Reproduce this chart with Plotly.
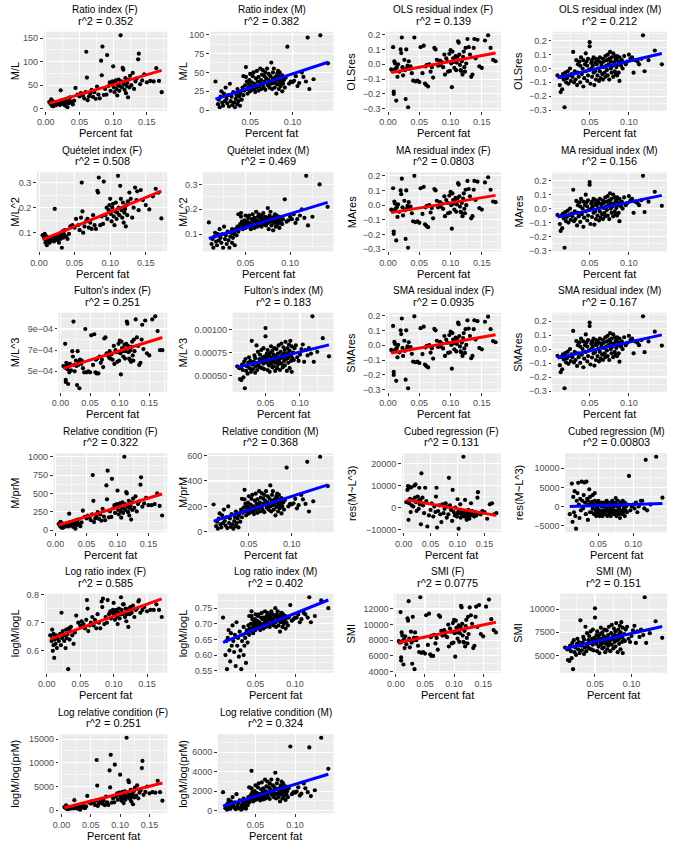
import numpy as np
import plotly.graph_objects as go

W, H = 673, 845
FONT = "Liberation Sans, Arial, sans-serif"

# ---------------- data: females ----------------
x_F = [0.005, 0.007, 0.008, 0.009, 0.009, 0.010, 0.010, 0.011, 0.012, 0.013, 0.014, 0.015, 0.016, 0.018,
       0.020, 0.021, 0.022, 0.023, 0.024, 0.026, 0.027, 0.028, 0.029, 0.030,
       0.031, 0.032, 0.033, 0.034, 0.035, 0.036, 0.038, 0.040, 0.042, 0.044,
       0.047, 0.050, 0.052, 0.055, 0.057, 0.059,
       0.060, 0.061, 0.062, 0.064, 0.066, 0.068, 0.070, 0.072, 0.074,
       0.076, 0.078, 0.080, 0.082, 0.083, 0.084, 0.086, 0.088, 0.090,
       0.091, 0.093, 0.095, 0.096, 0.098, 0.099, 0.100, 0.101, 0.102, 0.103, 0.104, 0.105,
       0.106, 0.107, 0.108, 0.109, 0.110, 0.111, 0.112, 0.113, 0.114, 0.115, 0.116, 0.117, 0.118, 0.119,
       0.120, 0.121, 0.122, 0.123, 0.124, 0.125, 0.127, 0.129, 0.131, 0.133,
       0.135, 0.137, 0.138, 0.140, 0.143,
       0.146, 0.150, 0.155, 0.160, 0.164, 0.168, 0.172]

ratio_F = [14, 10, 20, 6, 12, 8, 16, 5, 11, 9, 14, 7, 12, 10,
           15, 8, 39, 12, 18, 10, 14, 7, 20, 12,
           16, 3, 22, 11, 18, 24, 14, 9, 17, 44,
           30, 26, 33, 28, 22, 35,
           121, 66, 18, 26, 32, 40, 25, 35, 21,
           47, 30, 22, 102, 71, 132, 29, 42, 30,
           114, 48, 56, 38, 52, 58, 90, 45, 35, 55, 60, 42,
           28, 50, 62, 38, 48, 156, 58, 45, 87, 83, 52, 40, 65, 33,
           48, 55, 24, 62, 45, 70, 50, 76, 42, 58,
           64, 105, 117, 52, 60,
           73, 56, 59, 58, 86, 59, 35]

quet_F = [0.09, 0.08, 0.095, 0.06, 0.075, 0.07, 0.085, 0.05, 0.07, 0.065, 0.08, 0.06, 0.075, 0.07,
          0.085, 0.065, 0.195, 0.075, 0.09, 0.07, 0.08, 0.06, 0.095, 0.075,
          0.09, 0.04, 0.105, 0.08, 0.095, 0.11, 0.085, 0.075, 0.095, 0.125,
          0.13, 0.12, 0.155, 0.13, 0.11, 0.16,
          0.30, 0.185, 0.10, 0.125, 0.145, 0.155, 0.12, 0.14, 0.115,
          0.17, 0.13, 0.115, 0.267, 0.26, 0.32, 0.13, 0.165, 0.135,
          0.304, 0.17, 0.2, 0.155, 0.19, 0.21, 0.235, 0.175, 0.145, 0.2, 0.215, 0.165,
          0.13, 0.185, 0.22, 0.155, 0.18, 0.327, 0.2, 0.17, 0.287, 0.235, 0.19, 0.16, 0.22, 0.14,
          0.18, 0.195, 0.125, 0.21, 0.17, 0.225, 0.26, 0.235, 0.16, 0.2,
          0.28, 0.23, 0.265, 0.19, 0.27,
          0.23, 0.21, 0.193, 0.245, 0.275, 0.26, 0.157]

fulton_F = [5.5e-4, 5.4e-4, 7.6e-4, 4.2e-4, 4.0e-4, 5.8e-4, 5.3e-4, 5.6e-4, 5.2e-4, 3.8e-4, 5.5e-4, 4.9e-4, 5.7e-4, 5.1e-4,
            6.9e-4, 6.4e-4, 9.7e-4, 5.6e-4, 5.0e-4, 6.0e-4, 5.5e-4, 3.7e-4, 6.9e-4, 5.6e-4,
            5.9e-4, 3.4e-4, 6.1e-4, 5.8e-4, 5.7e-4, 6.0e-4, 5.3e-4, 4.9e-4, 9.0e-4, 4.9e-4,
            5.0e-4, 4.9e-4, 8.4e-4, 5.6e-4, 8.5e-4, 4.9e-4,
            6.1e-4, 4.8e-4, 6.2e-4, 4.8e-4, 6.4e-4, 5.8e-4, 6.1e-4, 5.4e-4, 8.1e-4,
            8.2e-4, 6.7e-4, 6.5e-4, 6.3e-4, 6.9e-4, 6.2e-4, 6.6e-4, 6.1e-4, 7.4e-4,
            5.7e-4, 7.0e-4, 6.8e-4, 5.9e-4, 7.6e-4, 6.0e-4, 7.9e-4, 6.7e-4, 4.7e-4, 7.8e-4, 7.2e-4, 6.9e-4,
            6.4e-4, 7.1e-4, 7.5e-4, 6.2e-4, 6.9e-4, 7.6e-4, 9.7e-4, 9.5e-4, 7.4e-4, 6.8e-4, 6.2e-4, 6.1e-4, 7.0e-4, 5.9e-4,
            7.3e-4, 7.8e-4, 6.5e-4, 6.0e-4, 8.0e-4, 6.9e-4, 9.9e-4, 8.2e-4, 7.4e-4, 5.6e-4,
            5.8e-4, 8.0e-4, 9.4e-4, 7.1e-4, 9.8e-4,
            6.7e-4, 6.5e-4, 9.9e-4, 10.2e-4, 8.8e-4, 7.0e-4, 7.0e-4]

ols_F = [-0.035, -0.045, 0.115, -0.185, -0.20, 0.02, -0.04, 0.005, -0.03, -0.245, -0.02, -0.085, 0.0, -0.05,
         0.10, 0.075, 0.18, -0.02, -0.075, 0.03, -0.04, -0.235, 0.10, -0.03,
         -0.01, -0.29, 0.02, -0.025, -0.03, -0.015, -0.06, -0.11, 0.18, -0.115,
         -0.11, -0.12, 0.115, -0.06, 0.125, -0.13,
         -0.015, -0.14, -0.005, -0.15, 0.0, -0.05, -0.02, -0.09, 0.11,
         0.10, 0.03, -0.01, 0.0, 0.025, -0.005, 0.015, -0.02, 0.065,
         -0.07, 0.04, 0.02, -0.05, 0.07, -0.045, 0.095, 0.005, -0.155, 0.085, 0.04, 0.015,
         -0.025, 0.03, 0.055, -0.04, 0.01, 0.05, 0.155, 0.145, 0.065, -0.005, -0.04, -0.045, 0.02, -0.07,
         0.05, 0.085, -0.02, -0.05, 0.11, 0.005, 0.17, 0.115, 0.065, -0.085,
         -0.07, 0.11, 0.17, 0.04, 0.165,
         -0.015, -0.025, 0.16, 0.195, 0.11, 0.03, 0.02]

ma_F = [-0.03, -0.04, 0.115, -0.18, -0.195, 0.025, -0.035, 0.01, -0.025, -0.24, -0.015, -0.08, 0.005, -0.045,
        0.10, 0.075, 0.18, -0.015, -0.07, 0.03, -0.035, -0.23, 0.10, -0.025,
        -0.005, -0.29, 0.02, -0.02, -0.025, -0.01, -0.055, -0.11, 0.2, -0.115,
        -0.11, -0.12, 0.115, -0.06, 0.125, -0.13,
        -0.015, -0.14, -0.005, -0.15, 0.0, -0.05, -0.02, -0.09, 0.11,
        0.10, 0.03, -0.015, -0.005, 0.02, -0.01, 0.01, -0.025, 0.06,
        -0.075, 0.035, 0.015, -0.055, 0.065, -0.05, 0.09, 0.0, -0.16, 0.08, 0.035, 0.01,
        -0.03, 0.025, 0.05, -0.045, 0.005, 0.045, 0.15, 0.14, 0.06, -0.01, -0.045, -0.05, 0.015, -0.075,
        0.045, 0.08, -0.025, -0.055, 0.105, 0.0, 0.165, 0.11, 0.06, -0.09,
        -0.075, 0.105, 0.165, 0.035, 0.16,
        -0.02, -0.03, 0.155, 0.19, 0.105, 0.025, 0.02]

sma_F = [-0.032, -0.042, 0.13, -0.18, -0.2, 0.022, -0.038, 0.008, -0.028, -0.24, -0.018, -0.082, 0.002, -0.048,
         0.10, 0.075, 0.18, -0.018, -0.072, 0.03, -0.038, -0.232, 0.10, -0.028,
         -0.008, -0.29, 0.02, -0.022, -0.028, -0.012, -0.058, -0.11, 0.195, -0.115,
         -0.11, -0.12, 0.115, -0.06, 0.125, -0.13,
         -0.015, -0.14, -0.005, -0.15, 0.0, -0.05, -0.02, -0.09, 0.11,
         0.10, 0.03, -0.012, -0.002, 0.022, -0.008, 0.012, -0.022, 0.062,
         -0.072, 0.038, 0.018, -0.052, 0.068, -0.048, 0.092, 0.002, -0.158, 0.082, 0.038, 0.012,
         -0.028, 0.028, 0.052, -0.042, 0.008, 0.048, 0.152, 0.142, 0.062, -0.008, -0.042, -0.048, 0.018, -0.072,
         0.048, 0.082, -0.022, -0.052, 0.108, 0.002, 0.168, 0.112, 0.062, -0.088,
         -0.072, 0.108, 0.168, 0.038, 0.162,
         -0.018, -0.028, 0.158, 0.192, 0.108, 0.028, 0.02]

relc_F = [85, 60, 115, 40, 75, 50, 95, 30, 70, 55, 85, 45, 75, 60,
          90, 50, 225, 75, 110, 65, 85, 45, 120, 75,
          100, 20, 135, 70, 110, 145, 85, 55, 105, 265,
          180, 160, 200, 170, 135, 215,
          750, 400, 110, 160, 195, 245, 155, 215, 130,
          290, 185, 135, 610, 420, 810, 175, 255, 180,
          700, 295, 340, 235, 320, 355, 540, 275, 215, 335, 365, 255,
          170, 305, 380, 235, 295, 1000, 355, 275, 520, 500, 320, 245, 400, 200,
          295, 335, 145, 380, 275, 430, 305, 460, 255, 355,
          390, 620, 720, 320, 365,
          440, 340, 340, 355, 500, 330, 200]

cubed_F = [2500, 8000, 9800, -5500, 3000, 9500, 2000, 9000, 4000, -2000, 9200, 1000, 3500, 500,
           10000, 4500, 10500, 2500, -1500, 5000, 3000, -500, 9000, 1500,
           3800, -7500, 15500, 2000, 4500, 1000, -2500, 9000, 3000, -8500,
           -3500, -1000, 2000, -4000, 500, -2000,
           5000, 9000, -9000, -1500, 1000, -3000, -6500, 1500, -2500,
           -500, 2000, -4500, 500, -3000, 13500, 1000, -1000, -6000,
           8000, -2000, -3500, 0, -3000, -4000, 3800, -2000, -9500, -1500, -2500, 1500,
           -4500, -1000, -3000, -2000, -3500, 23000, -1500, -4000, 3500, -2500, -3000, -5500, -2000, -4500,
           -1000, -3000, -5000, -2500, -3500, 2000, -1500, -3000, -4000, -2000,
           -3500, 4500, 7000, -2500, -3000,
           -1500, -2000, -5000, 1500, 2000, -3000, -2500]

logratio_F = [0.655, 0.635, 0.675, 0.60, 0.645, 0.62, 0.66, 0.575, 0.64, 0.625, 0.655, 0.61, 0.645, 0.635,
              0.66, 0.62, 0.735, 0.645, 0.67, 0.635, 0.655, 0.61, 0.675, 0.645,
              0.66, 0.535, 0.68, 0.64, 0.67, 0.685, 0.655, 0.625, 0.665, 0.725,
              0.70, 0.69, 0.705, 0.695, 0.68, 0.71,
              0.78, 0.75, 0.67, 0.69, 0.70, 0.72, 0.69, 0.71, 0.68,
              0.73, 0.70, 0.68, 0.775, 0.755, 0.785, 0.695, 0.72, 0.70,
              0.78, 0.73, 0.74, 0.715, 0.735, 0.745, 0.77, 0.73, 0.71, 0.74, 0.745, 0.72,
              0.695, 0.735, 0.75, 0.715, 0.73, 0.79, 0.745, 0.73, 0.765, 0.765, 0.735, 0.72, 0.75, 0.705,
              0.73, 0.74, 0.685, 0.75, 0.73, 0.755, 0.735, 0.76, 0.72, 0.745,
              0.75, 0.775, 0.78, 0.735, 0.745,
              0.755, 0.74, 0.745, 0.745, 0.765, 0.745, 0.72]

smi_F = [7900, 7700, 11600, 5400, 5800, 9000, 7800, 8600, 7900, 4900, 8100, 7000, 8500, 7500,
         10800, 10500, 13000, 8200, 7100, 9100, 7700, 5000, 11000, 8000,
         8300, 4300, 9000, 8100, 8000, 8300, 7300, 6500, 13500, 6400,
         6500, 6300, 11200, 7400, 11400, 6200,
         8400, 6000, 8600, 6000, 8700, 7600, 8300, 6800, 11200,
         11000, 9200, 8600, 8800, 9300, 8700, 9000, 8400, 10000,
         7200, 9500, 9100, 7600, 10200, 7700, 10600, 8900, 5900, 10500, 9600, 9000,
         8200, 9300, 9900, 7800, 8900, 9700, 12400, 12200, 10100, 8600, 7800, 7700, 9200, 7200,
         9800, 10600, 8300, 7600, 11000, 8800, 12200, 11200, 10100, 7000,
         7300, 11000, 12300, 9700, 12500,
         8800, 8500, 12300, 13200, 10700, 9300, 9000]

logrel_F = [650, 450, 1000, 280, 550, 350, 750, 200, 500, 400, 650, 300, 550, 450,
            700, 350, 2100, 550, 900, 450, 650, 300, 1000, 550,
            750, 100, 1100, 500, 900, 1250, 650, 400, 800, 3000,
            1650, 1400, 1850, 1500, 1100, 2000,
            10600, 5200, 900, 1400, 1800, 2350, 1350, 2000, 1050,
            2850, 1650, 1100, 8400, 4800, 11700, 1600, 2500, 1650,
            9600, 2900, 3550, 2200, 3250, 3700, 7500, 2700, 2000, 3450, 3850, 2500,
            1500, 3100, 4000, 2200, 2900, 15300, 3700, 2700, 6300, 5900, 3250, 2350, 4300, 1850,
            2900, 3450, 1250, 4000, 2700, 4700, 3100, 5250, 2500, 3700,
            4200, 8900, 10400, 3250, 3850,
            5000, 3550, 3800, 3700, 6200, 3800, 2000]

# ---------------- data: males ----------------
x_M = [0.009, 0.012, 0.013, 0.014, 0.015, 0.016, 0.017, 0.018, 0.019, 0.020,
       0.021, 0.022, 0.023, 0.024, 0.025, 0.026, 0.027, 0.028, 0.029, 0.030,
       0.031, 0.032, 0.033, 0.034, 0.035, 0.035, 0.036, 0.037, 0.038, 0.038,
       0.039, 0.040, 0.041, 0.042, 0.042, 0.043, 0.044, 0.045, 0.045, 0.046,
       0.047, 0.047, 0.048, 0.048, 0.049, 0.050, 0.050, 0.051, 0.052, 0.052,
       0.053, 0.053, 0.054, 0.055, 0.055, 0.056, 0.057, 0.057, 0.058, 0.058,
       0.059, 0.060, 0.060, 0.061, 0.062, 0.062, 0.063, 0.063, 0.064, 0.065,
       0.065, 0.066, 0.067, 0.067, 0.068, 0.068, 0.069, 0.070, 0.070, 0.071,
       0.072, 0.072, 0.073, 0.073, 0.074, 0.075, 0.075, 0.076, 0.077, 0.077,
       0.078, 0.078, 0.079, 0.080, 0.080, 0.081, 0.082, 0.082, 0.083, 0.083,
       0.084, 0.084, 0.085, 0.085, 0.086, 0.087, 0.087, 0.088, 0.088, 0.089,
       0.090, 0.091, 0.092, 0.094, 0.096, 0.098, 0.100, 0.102, 0.104, 0.106,
       0.108, 0.111, 0.113, 0.116, 0.118, 0.120, 0.125, 0.133, 0.142]

ratio_M = [38, 8, 14, 4, 18, 25, 10, 6, 22, 12,
           30, 15, 9, 20, 5, 35, 12, 18, 7, 24,
           10, 4, 15, 20, 8, 28, 12, 18, 6, 22,
           25, 14, 30, 45, 20, 26, 33, 44, 57, 38,
           28, 22, 35, 30, 40, 48, 25, 32, 27, 37,
           45, 30, 50, 28, 35, 24, 42, 33, 52, 30,
           38, 26, 44, 32, 55, 36, 28, 40, 47, 34,
           53, 30, 38, 45, 27, 50, 42, 36, 55, 33,
           40, 48, 30, 37, 45, 63, 35, 28, 42, 50,
           36, 55, 30, 44, 38, 22, 48, 34, 40, 52,
           28, 45, 36, 50, 32, 42, 38, 25, 46, 35,
           40, 30, 43, 84, 35, 38, 37, 39, 45, 32,
           36, 50, 44, 38, 96, 28, 41, 99, 62]

quet_M = [0.147, 0.06, 0.08, 0.045, 0.09, 0.105, 0.07, 0.055, 0.10, 0.075,
          0.12, 0.085, 0.065, 0.10, 0.045, 0.13, 0.08, 0.095, 0.06, 0.11,
          0.075, 0.045, 0.09, 0.105, 0.065, 0.12, 0.085, 0.10, 0.055, 0.11,
          0.12, 0.095, 0.13, 0.18, 0.11, 0.125, 0.14, 0.17, 0.185, 0.15,
          0.13, 0.12, 0.145, 0.135, 0.155, 0.175, 0.125, 0.14, 0.13, 0.15,
          0.165, 0.135, 0.175, 0.13, 0.145, 0.12, 0.16, 0.14, 0.18, 0.135,
          0.15, 0.125, 0.165, 0.14, 0.19, 0.15, 0.13, 0.155, 0.17, 0.145,
          0.18, 0.135, 0.15, 0.165, 0.13, 0.175, 0.16, 0.145, 0.185, 0.14,
          0.155, 0.17, 0.135, 0.15, 0.165, 0.205, 0.145, 0.12, 0.16, 0.175,
          0.15, 0.19, 0.135, 0.165, 0.155, 0.115, 0.17, 0.145, 0.16, 0.18,
          0.13, 0.165, 0.15, 0.175, 0.14, 0.16, 0.155, 0.125, 0.17, 0.145,
          0.155, 0.14, 0.16, 0.24, 0.15, 0.155, 0.17, 0.16, 0.18, 0.145,
          0.16, 0.175, 0.2, 0.165, 0.335, 0.135, 0.17, 0.30, 0.21]

fulton_M = [6.0e-4, 5.8e-4, 4.6e-4, 5.9e-4, 4.5e-4, 6.2e-4, 5.6e-4, 4.8e-4, 6.5e-4, 3.6e-4,
            6.8e-4, 5.5e-4, 6.0e-4, 5.2e-4, 6.4e-4, 7.0e-4, 5.8e-4, 6.6e-4, 5.4e-4, 8.8e-4,
            6.2e-4, 5.7e-4, 6.5e-4, 7.2e-4, 5.3e-4, 6.9e-4, 6.0e-4, 8.3e-4, 5.6e-4, 6.4e-4,
            7.6e-4, 6.1e-4, 6.8e-4, 5.9e-4, 7.3e-4, 6.5e-4, 7.8e-4, 5.8e-4, 6.6e-4, 7.0e-4,
            6.3e-4, 8.0e-4, 5.7e-4, 6.7e-4, 7.1e-4, 10.2e-4, 9.3e-4, 6.9e-4, 7.4e-4, 6.4e-4,
            7.8e-4, 5.6e-4, 6.8e-4, 7.2e-4, 6.1e-4, 5.4e-4, 7.5e-4, 6.6e-4, 8.2e-4, 6.3e-4,
            7.0e-4, 5.9e-4, 7.7e-4, 6.5e-4, 7.3e-4, 6.0e-4, 6.8e-4, 8.0e-4, 5.5e-4, 7.1e-4,
            6.4e-4, 7.9e-4, 6.7e-4, 5.8e-4, 7.4e-4, 6.2e-4, 8.3e-4, 7.0e-4, 6.5e-4, 5.6e-4,
            7.6e-4, 6.9e-4, 8.5e-4, 6.3e-4, 7.2e-4, 5.9e-4, 7.0e-4, 8.1e-4, 6.6e-4, 7.4e-4,
            6.1e-4, 7.8e-4, 8.7e-4, 6.8e-4, 7.3e-4, 5.5e-4, 8.0e-4, 6.9e-4, 7.5e-4, 6.4e-4,
            8.4e-4, 7.1e-4, 5.8e-4, 7.7e-4, 8.8e-4, 6.6e-4, 7.2e-4, 5.4e-4, 8.2e-4, 6.9e-4,
            7.5e-4, 6.7e-4, 8.0e-4, 8.3e-4, 7.0e-4, 6.6e-4, 7.3e-4, 7.9e-4, 8.4e-4, 6.5e-4,
            7.8e-4, 7.2e-4, 8.0e-4, 7.4e-4, 11.5e-4, 6.5e-4, 7.6e-4, 9.1e-4, 7.1e-4]

ols_M = [-0.05, -0.12, -0.17, -0.06, -0.15, -0.04, -0.08, -0.28, -0.03, -0.10,
         -0.07, -0.02, -0.11, -0.05, 0.0, -0.09, -0.04, -0.06, 0.12, -0.10,
         -0.02, -0.08, 0.06, -0.12, -0.03, 0.03, -0.06, 0.05, -0.10, 0.02,
         0.08, -0.04, 0.0, -0.13, 0.06, -0.07, 0.03, 0.11, -0.02, 0.05,
         -0.09, 0.02, -0.05, 0.07, -0.01, 0.19, 0.16, -0.11, 0.04, 0.0,
         0.06, -0.06, 0.02, -0.03, 0.08, -0.12, 0.04, -0.02, 0.07, -0.08,
         0.03, -0.05, 0.06, 0.0, -0.09, 0.05, -0.02, 0.08, -0.07, 0.02,
         0.04, -0.04, 0.07, -0.08, 0.01, 0.05, -0.03, 0.09, -0.06, 0.02,
         0.06, -0.01, 0.1, -0.05, 0.03, 0.07, -0.08, 0.12, 0.0, 0.05,
         -0.03, 0.08, 0.02, 0.11, -0.06, 0.04, 0.09, -0.02, 0.06, -0.04,
         0.07, 0.01, -0.05, 0.09, 0.03, 0.05, -0.03, 0.08, -0.09, 0.04,
         0.02, 0.06, 0.0, 0.09, 0.03, 0.05, 0.1, 0.07, 0.08, -0.03,
         0.06, 0.05, 0.03, 0.07, 0.24, -0.02, 0.06, 0.13, 0.03]

ma_M = [-0.045, -0.11, -0.16, -0.05, -0.14, -0.035, -0.07, -0.28, -0.025, -0.09,
        -0.06, -0.015, -0.1, -0.045, 0.0, -0.08, -0.035, -0.055, 0.135, -0.09,
        -0.02, -0.075, 0.055, -0.12, -0.03, 0.025, -0.055, 0.045, -0.095, 0.015,
        0.07, -0.04, 0.0, -0.13, 0.05, -0.065, 0.025, 0.10, -0.02, 0.045,
        -0.085, 0.015, -0.05, 0.06, -0.01, 0.19, 0.17, -0.11, 0.035, 0.0,
        0.05, -0.06, 0.015, -0.03, 0.07, -0.115, 0.035, -0.02, 0.06, -0.075,
        0.025, -0.05, 0.05, 0.0, -0.085, 0.04, -0.02, 0.07, -0.065, 0.015,
        0.035, -0.04, 0.06, -0.075, 0.005, 0.04, -0.03, 0.08, -0.055, 0.015,
        0.05, -0.01, 0.09, -0.05, 0.025, 0.06, -0.075, 0.11, 0.0, 0.04,
        -0.03, 0.07, 0.015, 0.10, -0.055, 0.035, 0.08, -0.02, 0.05, -0.04,
        0.06, 0.005, -0.05, 0.08, 0.025, 0.04, -0.03, 0.07, -0.09, 0.035,
        0.015, 0.05, 0.0, 0.08, 0.025, 0.04, 0.09, 0.06, 0.07, -0.03,
        0.05, 0.04, 0.025, 0.06, 0.235, -0.025, 0.05, 0.12, 0.02]

sma_M = [-0.048, -0.115, -0.165, -0.055, -0.145, -0.038, -0.075, -0.28, -0.028, -0.095,
         -0.065, -0.018, -0.105, -0.048, 0.0, -0.085, -0.038, -0.058, 0.13, -0.095,
         -0.02, -0.078, 0.058, -0.12, -0.03, 0.028, -0.058, 0.048, -0.098, 0.018,
         0.075, -0.04, 0.0, -0.13, 0.055, -0.068, 0.028, 0.105, -0.02, 0.048,
         -0.088, 0.018, -0.05, 0.065, -0.01, 0.19, 0.165, -0.11, 0.038, 0.0,
         0.055, -0.06, 0.018, -0.03, 0.075, -0.118, 0.038, -0.02, 0.065, -0.078,
         0.028, -0.05, 0.055, 0.0, -0.088, 0.045, -0.02, 0.075, -0.068, 0.018,
         0.038, -0.04, 0.065, -0.078, 0.008, 0.045, -0.03, 0.085, -0.058, 0.018,
         0.055, -0.01, 0.095, -0.05, 0.028, 0.065, -0.078, 0.115, 0.0, 0.045,
         -0.03, 0.075, 0.018, 0.105, -0.058, 0.038, 0.085, -0.02, 0.055, -0.04,
         0.065, 0.008, -0.05, 0.085, 0.028, 0.045, -0.03, 0.075, -0.09, 0.038,
         0.018, 0.055, 0.0, 0.085, 0.028, 0.045, 0.095, 0.065, 0.075, -0.03,
         0.055, 0.045, 0.028, 0.065, 0.235, -0.022, 0.055, 0.125, 0.025]

relc_M = [215, 45, 80, 25, 105, 145, 60, 35, 130, 70,
          175, 85, 50, 115, 30, 200, 70, 105, 40, 140,
          60, 25, 85, 115, 45, 160, 70, 105, 35, 130,
          145, 80, 175, 260, 115, 150, 190, 255, 330, 220,
          160, 130, 200, 175, 230, 280, 145, 185, 155, 215,
          260, 175, 290, 160, 200, 140, 245, 190, 300, 175,
          220, 150, 255, 185, 320, 210, 160, 230, 270, 195,
          305, 175, 220, 260, 155, 290, 245, 210, 320, 190,
          230, 280, 175, 215, 260, 365, 200, 160, 245, 290,
          210, 320, 175, 255, 220, 130, 280, 195, 230, 300,
          160, 260, 210, 290, 185, 245, 220, 145, 265, 200,
          230, 175, 250, 505, 200, 220, 215, 225, 260, 185,
          210, 290, 255, 220, 550, 160, 240, 590, 360]

cubed_M = [-2000, 6000, -4000, 2500, -1500, 4000, -2500, -5800, 1500, 3500,
           6200, 500, -3000, 2000, -1000, 6500, 1500, -500, 3000, 6300,
           1000, -2000, 6500, 2000, -3500, 1500, 500, 4500, -1500, 2500,
           1000, -1500, 1200, 3000, -500, 500, -2000, 1500, 3500, -1000,
           -2500, 0, -1500, 1000, -500, 1500, -2000, 500, -1000, -2500,
           500, -1500, 1000, -2000, 0, -2500, 500, -1000, 1000, -1500,
           0, -2000, 500, -1000, 1500, -500, -2500, 0, 1000, -1500,
           500, -1000, -2000, 0, -2500, 1000, -500, -1500, 1500, -1000,
           0, 500, -2000, -1000, 1000, 2200, -1500, -2500, 0, 500,
           -1000, 1500, -2000, 0, -500, -3000, 1000, -1500, 500, 1000,
           -2000, 500, -1000, 1500, -1500, 0, -500, -2500, 1000, -1000,
           0, -1500, 500, 8000, -1000, 0, 500, -500, 1000, -1500,
           0, 1500, 1500, -500, 12200, -1000, 500, 13000, 2300]

logratio_M = [0.72, 0.60, 0.645, 0.555, 0.655, 0.68, 0.615, 0.58, 0.67, 0.63,
              0.695, 0.645, 0.61, 0.665, 0.565, 0.705, 0.63, 0.655, 0.595, 0.675,
              0.615, 0.555, 0.645, 0.665, 0.60, 0.69, 0.63, 0.655, 0.575, 0.67,
              0.68, 0.64, 0.695, 0.725, 0.665, 0.685, 0.70, 0.725, 0.74, 0.715,
              0.69, 0.67, 0.705, 0.695, 0.715, 0.73, 0.68, 0.70, 0.69, 0.71,
              0.725, 0.695, 0.73, 0.69, 0.705, 0.68, 0.72, 0.70, 0.735, 0.695,
              0.715, 0.685, 0.72, 0.70, 0.74, 0.71, 0.69, 0.715, 0.725, 0.705,
              0.735, 0.695, 0.715, 0.725, 0.69, 0.73, 0.72, 0.71, 0.74, 0.70,
              0.715, 0.73, 0.695, 0.71, 0.725, 0.75, 0.705, 0.69, 0.72, 0.73,
              0.71, 0.74, 0.695, 0.725, 0.715, 0.675, 0.73, 0.705, 0.715, 0.735,
              0.69, 0.725, 0.71, 0.73, 0.70, 0.72, 0.715, 0.685, 0.725, 0.705,
              0.72, 0.695, 0.72, 0.76, 0.71, 0.715, 0.72, 0.72, 0.73, 0.705,
              0.715, 0.735, 0.73, 0.72, 0.785, 0.705, 0.725, 0.775, 0.75]

smi_M = [5850, 5650, 4500, 5750, 4400, 6050, 5450, 4700, 6350, 3500,
         6650, 5350, 5850, 5050, 6250, 6800, 5650, 6450, 5250, 8800,
         6050, 5550, 6350, 7000, 5150, 6700, 5850, 8100, 5450, 6250,
         7400, 5950, 6650, 5750, 7100, 6350, 7600, 5650, 6450, 6800,
         6150, 7800, 5550, 6550, 6900, 10100, 9100, 6700, 7200, 6250,
         7600, 5450, 6650, 7000, 5950, 5250, 7300, 6450, 8000, 6150,
         6800, 5750, 7500, 6350, 7100, 5850, 6650, 7800, 5350, 6900,
         6250, 7700, 6550, 5650, 7200, 6050, 8100, 6800, 6350, 5450,
         7400, 6700, 8300, 6150, 7000, 5750, 6800, 7900, 6450, 7200,
         5950, 7600, 8500, 6650, 7100, 5350, 7800, 6700, 7300, 6250,
         8200, 6900, 5650, 7500, 8600, 6450, 7000, 5250, 8000, 6700,
         7300, 6550, 7800, 8100, 6800, 6450, 7100, 7700, 8200, 6350,
         7600, 7000, 7800, 7200, 11300, 6350, 7400, 8700, 6900]

logrel_M = [1900, 250, 550, 100, 750, 1100, 350, 180, 950, 450,
            1400, 600, 300, 850, 150, 1700, 450, 750, 220, 1050,
            350, 100, 600, 850, 250, 1250, 450, 750, 200, 950,
            1100, 550, 1400, 2400, 850, 1150, 1600, 2300, 4100, 1900,
            1250, 950, 1700, 1400, 2000, 2600, 1100, 1500, 1200, 1800,
            2400, 1400, 2800, 1250, 1700, 1050, 2200, 1600, 2900, 1400,
            1900, 1150, 2300, 1500, 3200, 1750, 1250, 2000, 2500, 1650,
            3000, 1400, 1900, 2400, 1200, 2800, 2200, 1750, 3200, 1600,
            2000, 2600, 1400, 1800, 2400, 3900, 1700, 1250, 2200, 2800,
            1750, 3200, 1400, 2300, 1900, 950, 2600, 1650, 2000, 3000,
            1250, 2400, 1750, 2800, 1500, 2200, 1900, 1100, 2500, 1700,
            2000, 1400, 2300, 6600, 1700, 1900, 1850, 1950, 2400, 1550,
            1750, 2800, 2300, 1900, 6500, 1500, 2100, 7500, 4300]

# ---------------- tick labels ----------------
x_ticks_F = [0.0, 0.05, 0.10, 0.15]
x_ticktext_F = ["0.00", "0.05", "0.10", "0.15"]
x_ticks_M = [0.05, 0.10]
x_ticktext_M = ["0.05", "0.10"]

res_ticks = [-0.3, -0.2, -0.1, 0.0, 0.1, 0.2]
res_text = ["\u22120.3", "\u22120.2", "\u22120.1", "0.0", "0.1", "0.2"]

# title, r2, sex, y data, y label, y ticks, y tick text
panels = [
    ("Ratio index (F)", "0.352", "F", ratio_F, "M/L", [0, 50, 100, 150], ["0", "50", "100", "150"]),
    ("Ratio index (M)", "0.382", "M", ratio_M, "M/L", [0, 25, 50, 75, 100], ["0", "25", "50", "75", "100"]),
    ("OLS residual index (F)", "0.139", "F", ols_F, "OLSres", res_ticks, res_text),
    ("OLS residual index (M)", "0.212", "M", ols_M, "OLSres", res_ticks, res_text),
    ("Qu\u00e9telet index (F)", "0.508", "F", quet_F, "M/L^2", [0.1, 0.2, 0.3], ["0.1", "0.2", "0.3"]),
    ("Qu\u00e9telet index (M)", "0.469", "M", quet_M, "M/L^2", [0.1, 0.2, 0.3], ["0.1", "0.2", "0.3"]),
    ("MA residual index (F)", "0.0803", "F", ma_F, "MAres", res_ticks, res_text),
    ("MA residual index (M)", "0.156", "M", ma_M, "MAres", res_ticks, res_text),
    ("Fulton's index (F)", "0.251", "F", fulton_F, "M/L^3", [5e-4, 7e-4, 9e-4], ["5e\u221204", "7e\u221204", "9e\u221204"]),
    ("Fulton's index (M)", "0.183", "M", fulton_M, "M/L^3", [5e-4, 7.5e-4, 1e-3], ["0.00050", "0.00075", "0.00100"]),
    ("SMA residual index (F)", "0.0935", "F", sma_F, "SMAres", res_ticks, res_text),
    ("SMA residual index (M)", "0.167", "M", sma_M, "SMAres", res_ticks, res_text),
    ("Relative condition (F)", "0.322", "F", relc_F, "M/prM", [0, 250, 500, 750, 1000], ["0", "250", "500", "750", "1000"]),
    ("Relative condition (M)", "0.368", "M", relc_M, "M/prM", [0, 200, 400, 600], ["0", "200", "400", "600"]),
    ("Cubed regression (F)", "0.131", "F", cubed_F, "res(M~L^3)", [-10000, 0, 10000, 20000], ["\u221210000", "0", "10000", "20000"]),
    ("Cubed regression (M)", "0.00803", "M", cubed_M, "res(M~L^3)", [-5000, 0, 5000, 10000], ["\u22125000", "0", "5000", "10000"]),
    ("Log ratio index (F)", "0.585", "F", logratio_F, "logM/logL", [0.6, 0.7, 0.8], ["0.6", "0.7", "0.8"]),
    ("Log ratio index (M)", "0.402", "M", logratio_M, "logM/logL", [0.55, 0.60, 0.65, 0.70, 0.75], ["0.55", "0.60", "0.65", "0.70", "0.75"]),
    ("SMI (F)", "0.0775", "F", smi_F, "SMI", [4000, 6000, 8000, 10000, 12000], ["4000", "6000", "8000", "10000", "12000"]),
    ("SMI (M)", "0.151", "M", smi_M, "SMI", [5000, 7500, 10000], ["5000", "7500", "10000"]),
    ("Log relative condition (F)", "0.251", "F", logrel_F, "logM/log(prM)", [0, 5000, 10000, 15000], ["0", "5000", "10000", "15000"]),
    ("Log relative condition (M)", "0.324", "M", logrel_M, "logM/log(prM)", [0, 2000, 4000, 6000], ["0", "2000", "4000", "6000"]),
]

# ---------------- layout geometry (pixels) ----------------
ytitle_x = [8, 178, 348, 517]
col_right = [162, 330, 499, 667]
panel_left = [[37, 205, 383, 551],
              [30, 198, 383, 551],
              [52, 228, 383, 551],
              [47, 203, 399, 564],
              [38, 213, 391, 559],
              [53, 213]]
row_top = [28, 170, 312, 454, 596, 738]
PANEL_H = 80


def expand(vals, mult=0.05):
    lo, hi = min(vals), max(vals)
    d = (hi - lo) * mult
    return [lo - d, hi + d]


def minor_breaks(ticks, rng):
    step = ticks[1] - ticks[0]
    v = ticks[0] - step / 2
    while v > rng[0]:
        v -= step
    out = []
    while v < rng[1]:
        if v > rng[0]:
            out.append(v)
        v += step
    return out


fig = go.Figure()
layout = {}
annotations = []

for i, (title, r2, sex, ys, ylab, yt, ytt) in enumerate(panels):
    r, c = divmod(i, 4)
    k = i + 1
    xs = x_F if sex == "F" else x_M
    if len(xs) != len(ys):
        raise ValueError(f"length mismatch in panel {title}: {len(xs)} vs {len(ys)}")
    color = "#FF0000" if sex == "F" else "#0000FF"
    xt, xtt = (x_ticks_F, x_ticktext_F) if sex == "F" else (x_ticks_M, x_ticktext_M)
    xa = "x" if k == 1 else f"x{k}"
    ya = "y" if k == 1 else f"y{k}"

    fig.add_trace(go.Scatter(x=xs, y=ys, mode="markers",
                             marker=dict(color="black", size=4.2, line=dict(width=0)),
                             xaxis=xa, yaxis=ya, showlegend=False, hoverinfo="skip"))
    slope, icpt = np.polyfit(np.array(xs, float), np.array(ys, float), 1)
    xl = [min(xs), max(xs)]
    fig.add_trace(go.Scatter(x=xl, y=[icpt + slope * v for v in xl], mode="lines",
                             line=dict(color=color, width=3),
                             xaxis=xa, yaxis=ya, showlegend=False, hoverinfo="skip"))

    L = panel_left[r][c]
    R = col_right[c]
    T = row_top[r]
    B = T + PANEL_H
    xr = expand(xs)
    yr = expand(ys)
    common = dict(showline=False, zeroline=False, ticks="outside", ticklen=2.7, tickwidth=1,
                  tickcolor="#333333", tickfont=dict(size=9, color="#4D4D4D", family=FONT),
                  showgrid=True, gridcolor="white", gridwidth=1.1, tickmode="array", fixedrange=True)
    layout[f"xaxis{k}"] = dict(domain=[L / W, R / W], anchor=ya, range=xr,
                               tickvals=xt, ticktext=xtt,
                               minor=dict(tickmode="array", tickvals=minor_breaks(xt, xr),
                                          showgrid=True, gridcolor="white", gridwidth=0.55, ticks=""),
                               **common)
    layout[f"yaxis{k}"] = dict(domain=[1 - B / H, 1 - T / H], anchor=xa, range=yr,
                               tickvals=yt, ticktext=ytt,
                               minor=dict(tickmode="array", tickvals=minor_breaks(yt, yr),
                                          showgrid=True, gridcolor="white", gridwidth=0.55, ticks=""),
                               **common)

    cx = (L + R) / 2 / W
    annotations.append(dict(text=title, x=cx, y=1 - (T - 22) / H, xref="paper", yref="paper",
                            xanchor="center", yanchor="middle", showarrow=False,
                            font=dict(size=10, color="black", family=FONT)))
    annotations.append(dict(text=f"r^2 = {r2}", x=cx, y=1 - (T - 11) / H, xref="paper", yref="paper",
                            xanchor="center", yanchor="middle", showarrow=False,
                            font=dict(size=11, color="black", family=FONT)))
    annotations.append(dict(text="Percent fat", x=cx, y=1 - (B + 22.5) / H, xref="paper", yref="paper",
                            xanchor="center", yanchor="middle", showarrow=False,
                            font=dict(size=11, color="black", family=FONT)))
    annotations.append(dict(text=ylab, x=ytitle_x[c] / W, y=1 - (T + B) / 2 / H,
                            xref="paper", yref="paper", textangle=-90,
                            xanchor="center", yanchor="middle", showarrow=False,
                            font=dict(size=11, color="black", family=FONT)))

fig.update_layout(width=W, height=H, autosize=False,
                  margin=dict(l=0, r=0, t=0, b=0, pad=0),
                  paper_bgcolor="white", plot_bgcolor="#EBEBEB",
                  font=dict(family=FONT, size=10, color="black"),
                  annotations=annotations, **layout)

fig.write_html("out.html", config={"displayModeBar": False, "staticPlot": True},
               post_script="document.body.style.margin='0';document.body.style.overflow='hidden';")
